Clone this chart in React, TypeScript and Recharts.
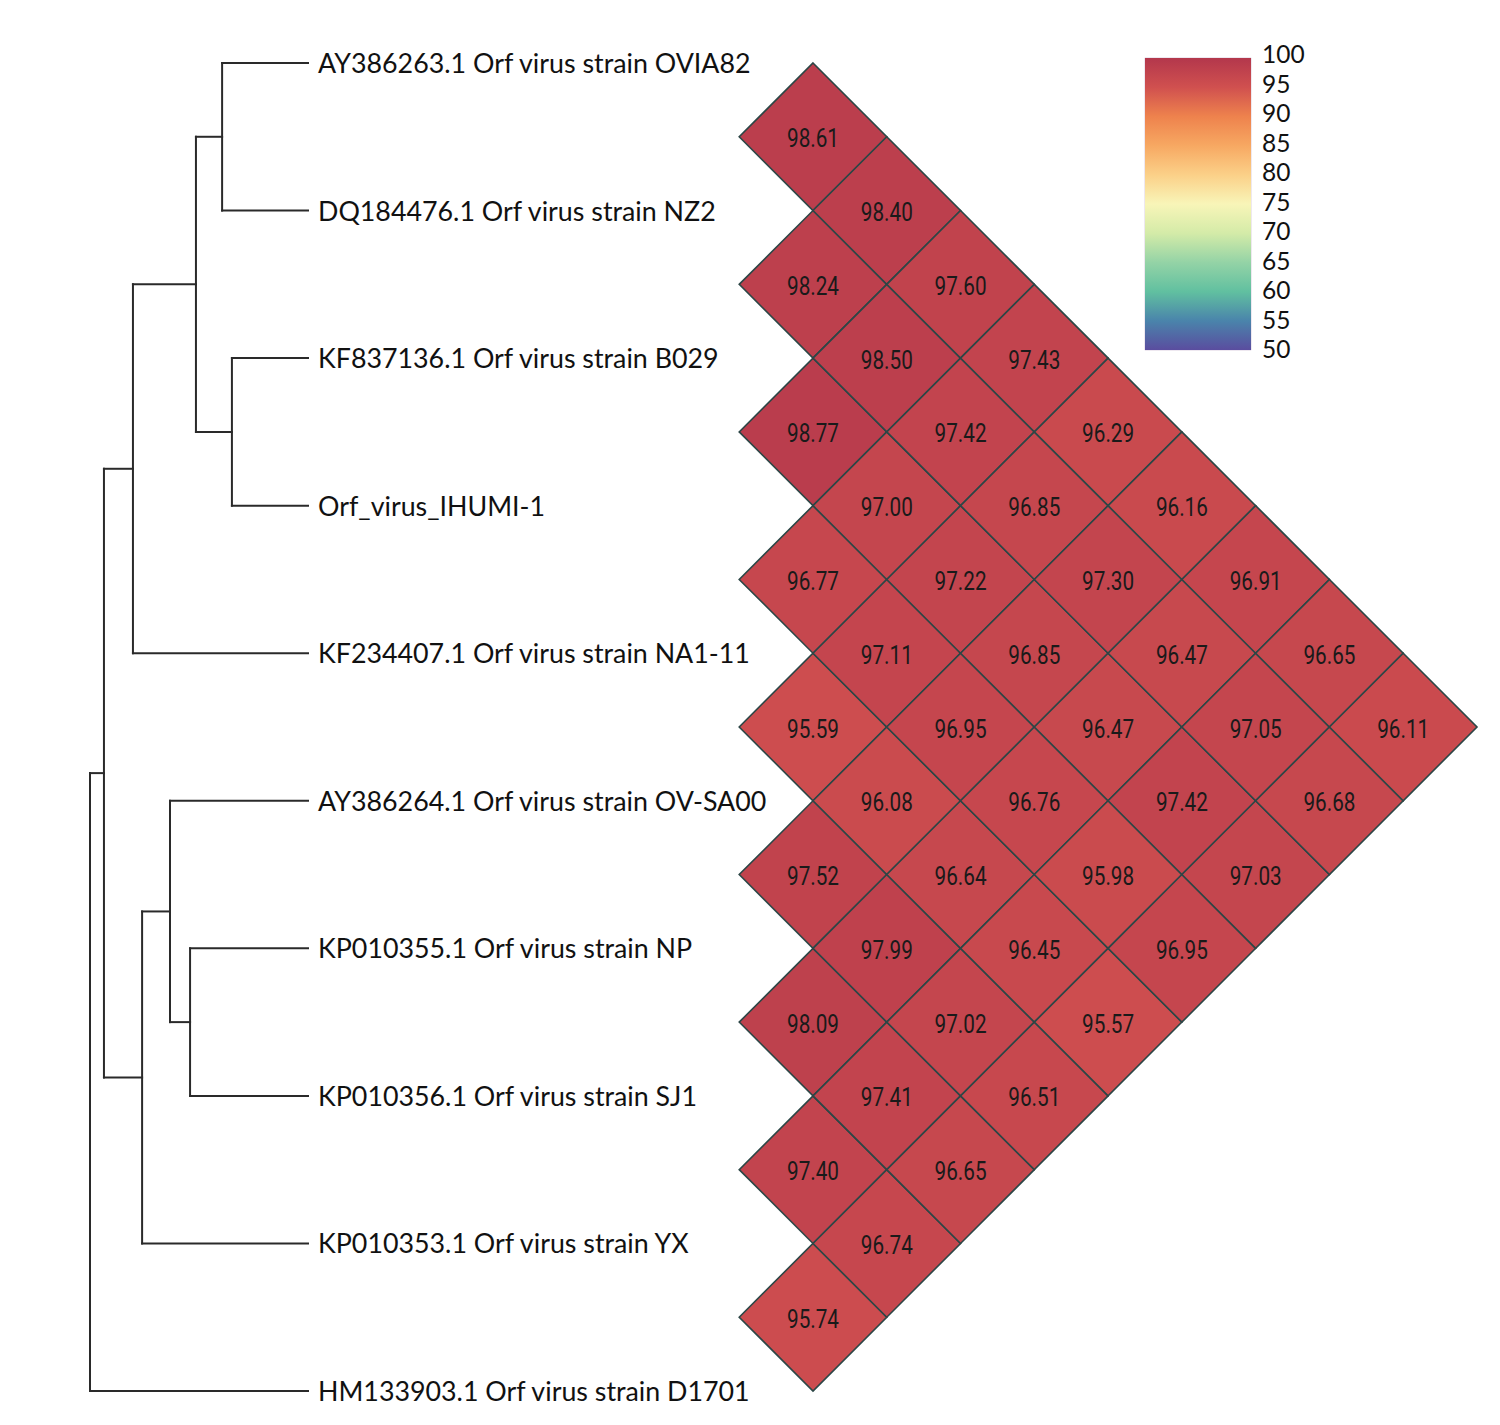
import React from "react";
import { ComposedChart, XAxis, YAxis, Scatter, ReferenceLine, Legend } from "recharts";

// leaf labels, top to bottom
const LEAVES = [
  "AY386263.1 Orf virus strain OVIA82",
  "DQ184476.1 Orf virus strain NZ2",
  "KF837136.1 Orf virus strain B029",
  "Orf_virus_IHUMI-1",
  "KF234407.1 Orf virus strain NA1-11",
  "AY386264.1 Orf virus strain OV-SA00",
  "KP010355.1 Orf virus strain NP",
  "KP010356.1 Orf virus strain SJ1",
  "KP010353.1 Orf virus strain YX",
  "HM133903.1 Orf virus strain D1701",
];

// tree topology: numbers are leaf indexes, depth is relative (tips at 1)
type TreeNode = { depth: number; children: (number | TreeNode)[] };
const TREE: TreeNode = {
  depth: 0,
  children: [
    {
      depth: 0.064,
      children: [
        {
          depth: 0.197,
          children: [
            {
              depth: 0.486,
              children: [
                { depth: 0.606, children: [0, 1] },
                { depth: 0.651, children: [2, 3] },
              ],
            },
            4,
          ],
        },
        {
          depth: 0.239,
          children: [{ depth: 0.367, children: [5, { depth: 0.459, children: [6, 7] }] }, 8],
        },
      ],
    },
    9,
  ],
};

// pairwise identity (%), one array per off-diagonal: DIAG_k[i] = identity(i, i + k)
const DIAG_1 = [98.61, 98.24, 98.77, 96.77, 95.59, 97.52, 98.09, 97.4, 95.74];
const DIAG_2 = [98.4, 98.5, 97.0, 97.11, 96.08, 97.99, 97.41, 96.74];
const DIAG_3 = [97.6, 97.42, 97.22, 96.95, 96.64, 97.02, 96.65];
const DIAG_4 = [97.43, 96.85, 96.85, 96.76, 96.45, 96.51];
const DIAG_5 = [96.29, 97.3, 96.47, 95.98, 95.57];
const DIAG_6 = [96.16, 96.47, 97.42, 96.95];
const DIAG_7 = [96.91, 97.05, 97.03];
const DIAG_8 = [96.65, 96.68];
const DIAG_9 = [96.11];
const DIAGONALS = [DIAG_1, DIAG_2, DIAG_3, DIAG_4, DIAG_5, DIAG_6, DIAG_7, DIAG_8, DIAG_9];

const SCALE_TICKS = [100, 95, 90, 85, 80, 75, 70, 65, 60, 55, 50];
const SCALE_COLORS = [
  "#b3374c", "#d0504f", "#ee824d", "#f7a862", "#fbd088", "#f8f5b8",
  "#d4eba8", "#94d3a6", "#61c0a0", "#4a84ab", "#5a4d9f",
];

const W = 1500;
const H = 1425;
const MARGIN = { top: 63, right: 23, bottom: 34, left: 90 };
const PLOT_W = W - MARGIN.left - MARGIN.right;
const PLOT_H = H - MARGIN.top - MARGIN.bottom;
const LEAF_PX = PLOT_H / (LEAVES.length - 1);
const HALF = LEAF_PX / 2;
const TREE_PX = 218; // root to tips
const TREE_MAX = PLOT_W / TREE_PX;
const HEAT_MAX = LEAVES.length;
const HEAT_MIN = HEAT_MAX - PLOT_W / HALF;

const FONT = "Lato, 'Open Sans', sans-serif";
const NUM_FONT = "Roboto, 'Liberation Sans', sans-serif";

const hexToRgb = (h: string) => [1, 3, 5].map((i) => parseInt(h.slice(i, i + 2), 16));

function colorFor(v: number) {
  for (let i = 0; i < SCALE_TICKS.length - 1; i++) {
    const hi = SCALE_TICKS[i];
    const lo = SCALE_TICKS[i + 1];
    if (v <= hi && v >= lo) {
      const t = (hi - v) / (hi - lo);
      const a = hexToRgb(SCALE_COLORS[i]);
      const b = hexToRgb(SCALE_COLORS[i + 1]);
      const c = a.map((x, k) => Math.round(x + (b[k] - x) * t));
      return `rgb(${c.join(",")})`;
    }
  }
  return SCALE_COLORS[0];
}

// tree -> line segments
type Seg = { x1: number; x2: number; y1: number; y2: number };
const segments: Seg[] = [];
function walk(n: number | TreeNode): number {
  if (typeof n === "number") return n;
  const ys = n.children.map((c) => {
    const y = walk(c);
    const d = typeof c === "number" ? 1 : c.depth;
    segments.push({ x1: n.depth, x2: d, y1: y, y2: y });
    return y;
  });
  segments.push({ x1: n.depth, x2: n.depth, y1: Math.min(...ys), y2: Math.max(...ys) });
  return ys.reduce((a, b) => a + b, 0) / ys.length;
}
walk(TREE);

const cells = DIAGONALS.flatMap((diag, k) =>
  diag.map((value, i) => ({ col: k + 1, row: i + (k + 1) / 2, value }))
);
const leafPoints = LEAVES.map((name, i) => ({ depth: 1, row: i, name }));

const Diamond = (props: any) => {
  const { cx, cy, payload } = props;
  const h = HALF;
  return (
    <g>
      <polygon
        points={`${cx},${cy - h} ${cx + h},${cy} ${cx},${cy + h} ${cx - h},${cy}`}
        fill={colorFor(payload.value)}
        stroke="#2c4646"
        strokeWidth={1.6}
      />
      <text
        x={cx}
        y={cy + 2}
        textAnchor="middle"
        dominantBaseline="central"
        fontFamily={NUM_FONT}
        fontSize={25}
        textLength={52}
        lengthAdjust="spacingAndGlyphs"
        fill="#1a1a1a"
      >
        {payload.value.toFixed(2)}
      </text>
    </g>
  );
};

const LeafLabel = (props: any) => {
  const { cx, cy, payload } = props;
  return (
    <text x={cx + 10} y={cy} dominantBaseline="central" fontFamily={FONT} fontSize={26.8} fill="#111">
      {payload.name}
    </text>
  );
};

const ColorBar = () => (
  <div style={{ position: "relative", width: 200, height: 330 }}>
    <div
      style={{
        position: "absolute",
        left: 0,
        top: 18,
        width: 106,
        height: 292,
        background: `linear-gradient(to bottom, ${SCALE_COLORS.join(", ")})`,
        boxShadow: "0 0 1px #9a7aa8",
      }}
    />
    {SCALE_TICKS.map((t, i) => (
      <div
        key={t}
        style={{
          position: "absolute",
          left: 117,
          top: 14 + i * 29.5 - 13,
          height: 26,
          lineHeight: "26px",
          fontFamily: FONT,
          fontSize: 24.5,
          color: "#111",
        }}
      >
        {t}
      </div>
    ))}
  </div>
);

export default function App() {
  return (
    <div style={{ position: "absolute", left: 0, top: 0, width: W, height: H, background: "#fff" }}>
      <ComposedChart width={W} height={H} margin={MARGIN}>
        <XAxis xAxisId="tree" type="number" dataKey="depth" domain={[0, TREE_MAX]} hide />
        <XAxis xAxisId="heat" type="number" dataKey="col" domain={[HEAT_MIN, HEAT_MAX]} hide />
        <YAxis type="number" dataKey="row" domain={[0, LEAVES.length - 1]} reversed hide />
        {segments.map((s, i) => (
          <ReferenceLine
            key={i}
            xAxisId="tree"
            segment={[
              { x: s.x1, y: s.y1 },
              { x: s.x2, y: s.y2 },
            ]}
            stroke="#2a2a2a"
            strokeWidth={2}
            strokeLinecap="square"
          />
        ))}
        <Scatter xAxisId="heat" data={cells} shape={<Diamond />} isAnimationActive={false} />
        <Scatter xAxisId="tree" data={leafPoints} shape={<LeafLabel />} isAnimationActive={false} />
        <Legend
          layout="horizontal"
          verticalAlign="middle"
          align="center"
          wrapperStyle={{ left: 1145, top: 40, width: 200, height: 330 }}
          content={() => <ColorBar />}
        />
      </ComposedChart>
    </div>
  );
}
